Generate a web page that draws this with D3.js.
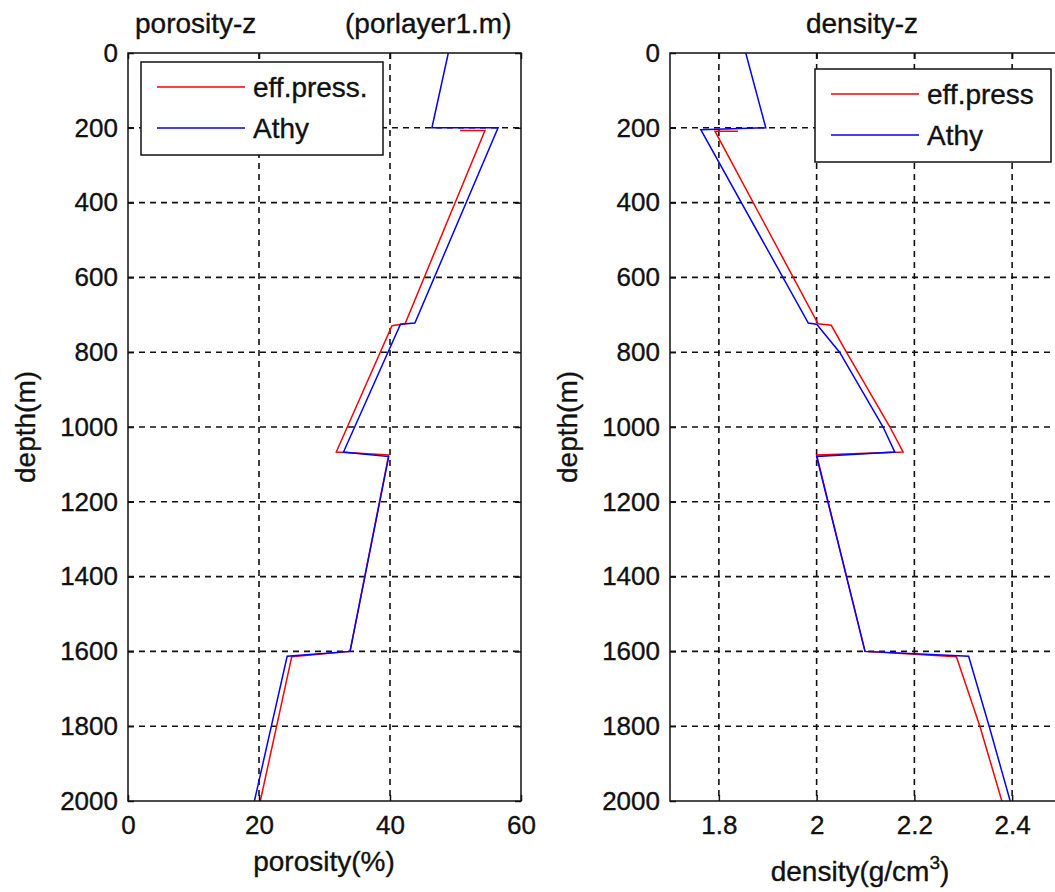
<!DOCTYPE html>
<html>
<head>
<meta charset="utf-8">
<script src="https://cdn.jsdelivr.net/npm/d3@7"></script>
<style>
  body { margin: 0; background: #fff; }
  svg { display: block; }
  text { font-family: Arial, "Liberation Sans", sans-serif; fill: #111; stroke: #111; stroke-width: 0.35px; }
</style>
</head>
<body>
<svg width="1055" height="892"></svg>
<script>
// porosity / density vs depth, two panels
// --- data ---
const porTicks = [0, 20, 40, 60];
const denTicks = [1.8, 2, 2.2, 2.4];
const depthTicks = [0, 200, 400, 600, 800, 1000, 1200, 1400, 1600, 1800, 2000];

// porosity(%) - Athy
const porAthyDepth = [0, 200, 200, 722, 725, 1067, 1079, 1600, 1613, 2000];
const porAthy = [48.9, 46.4, 56.5, 43.8, 41.6, 32.9, 39.8, 33.9, 24.3, 19.3];
// porosity(%) - eff.press.
const porEffDepth = [207, 207, 724, 729, 1067, 1075, 1600, 1614, 2000];
const porEff = [50.7, 54.5, 42.3, 40.3, 31.8, 39.8, 33.9, 25.0, 20.2];

// density(g/cm3) - Athy
const denAthyDepth = [0, 200, 205, 722, 725, 800, 1000, 1067, 1079, 1600, 1613, 1800, 2000];
const denAthy = [1.855, 1.896, 1.763, 1.983, 2.0, 2.047, 2.136, 2.16, 2.0, 2.099, 2.311, 2.353, 2.396];
// density(g/cm3) - eff.press
const denEffDepth = [209, 209, 724, 728, 800, 1000, 1067, 1075, 1600, 1614, 1800, 2000];
const denEff = [1.839, 1.792, 2.003, 2.03, 2.061, 2.15, 2.177, 2.0, 2.099, 2.286, 2.334, 2.379];

const svg = d3.select("svg");
const plotTop = 53, plotBottom = 801;
const fs = 28;     // titles, labels, legend
const tickFs = 26; // tick labels

const yScale = d3.scaleLinear().domain([0, 2000]).range([plotTop, plotBottom]);

function panel(cfg) {
  const x = d3.scaleLinear().domain(cfg.domain).range(cfg.range);
  const g = svg.append("g");
  const x0 = cfg.range[0], x1 = cfg.range[1];
  const w = x1 - x0, h = plotBottom - plotTop;

  const clipId = "clip-" + cfg.id;
  svg.append("clipPath").attr("id", clipId)
    .append("rect").attr("x", x0).attr("y", plotTop).attr("width", w).attr("height", h);

  // dashed grid
  const grid = g.append("g").attr("stroke", "#111").attr("stroke-width", 1.6)
    .attr("stroke-dasharray", "6,5");
  grid.selectAll(".vg")
    .data(cfg.ticks.filter((t) => x(t) > x0 + 2 && x(t) < x1 - 2))
    .enter().append("line")
    .attr("x1", (d) => x(d)).attr("x2", (d) => x(d))
    .attr("y1", plotTop).attr("y2", plotBottom);
  grid.selectAll(".hg")
    .data(depthTicks.filter((t) => t > 0 && t < 2000))
    .enter().append("line")
    .attr("x1", x0).attr("x2", x1)
    .attr("y1", (d) => yScale(d)).attr("y2", (d) => yScale(d));

  // curves
  const line = d3.line().x((d) => x(d[0])).y((d) => yScale(d[1]));
  const curves = g.append("g").attr("clip-path", `url(#${clipId})`);
  curves.append("path")
    .datum(d3.zip(cfg.eff, cfg.effDepth))
    .attr("d", line).attr("fill", "none").attr("stroke", "#ff0000").attr("stroke-width", 1.5);
  curves.append("path")
    .datum(d3.zip(cfg.athy, cfg.athyDepth))
    .attr("d", line).attr("fill", "none").attr("stroke", "#0000ff").attr("stroke-width", 1.5);

  // axes (inward ticks)
  const ax = g.append("g").attr("transform", `translate(0,${plotBottom})`)
    .call(d3.axisBottom(x).tickValues(cfg.ticks).tickSize(-6).tickPadding(15)
      .tickFormat(d3.format("")));
  const axT = g.append("g").attr("transform", `translate(0,${plotTop})`)
    .call(d3.axisTop(x).tickValues(cfg.ticks).tickSize(-6).tickFormat(""));
  const ay = g.append("g").attr("transform", `translate(${x0},0)`)
    .call(d3.axisLeft(yScale).tickValues(depthTicks).tickSize(-6).tickPadding(10)
      .tickFormat(d3.format("d")));
  const ayR = g.append("g").attr("transform", `translate(${x1},0)`)
    .call(d3.axisRight(yScale).tickValues(depthTicks).tickSize(-6).tickFormat(""));
  [ax, axT, ay, ayR].forEach((a) => {
    a.select(".domain").remove();
    a.selectAll("line").attr("stroke", "#111").attr("stroke-width", 1.5);
    a.selectAll("text").attr("font-size", tickFs).attr("fill", "#111")
      .attr("font-family", "Arial, 'Liberation Sans', sans-serif");
  });

  g.append("rect").attr("x", x0).attr("y", plotTop).attr("width", w).attr("height", h)
    .attr("fill", "none").attr("stroke", "#111").attr("stroke-width", 1.5);

  // y label
  g.append("text").attr("transform", `translate(${x0 - 93},${(plotTop + plotBottom) / 2}) rotate(-90)`)
    .attr("text-anchor", "middle").attr("font-size", fs).text("depth(m)");

  // legend
  const lg = g.append("g");
  const lb = cfg.legend;
  lg.append("rect").attr("x", lb.x).attr("y", lb.y).attr("width", lb.w).attr("height", lb.h)
    .attr("fill", "#fff").attr("stroke", "#111").attr("stroke-width", 1.5);
  const items = [[cfg.effName, "#ff0000"], ["Athy", "#0000ff"]];
  items.forEach((it, i) => {
    const ly = lb.y + 25 + i * 41;
    lg.append("line").attr("x1", lb.x + 16).attr("x2", lb.x + 104)
      .attr("y1", ly).attr("y2", ly).attr("stroke", it[1]).attr("stroke-width", 1.5);
    lg.append("text").attr("x", lb.x + 112).attr("y", ly).attr("dy", "0.35em")
      .attr("font-size", fs).text(it[0]);
  });
  return x;
}

panel({
  id: "por", domain: [0, 60], range: [128, 521], ticks: porTicks,
  athy: porAthy, athyDepth: porAthyDepth, eff: porEff, effDepth: porEffDepth,
  effName: "eff.press.",
  legend: { x: 141, y: 62, w: 242, h: 93 }
});
panel({
  id: "den", domain: [1.7, 2.5], range: [670, 1061], ticks: denTicks,
  athy: denAthy, athyDepth: denAthyDepth, eff: denEff, effDepth: denEffDepth,
  effName: "eff.press",
  legend: { x: 815, y: 69, w: 236, h: 93 }
});

// titles and x labels
svg.append("text").attr("x", 135).attr("y", 33).attr("font-size", fs).text("porosity-z");
svg.append("text").attr("x", 345).attr("y", 33).attr("font-size", fs).text("(porlayer1.m)");
svg.append("text").attr("x", 862).attr("y", 33).attr("text-anchor", "middle")
  .attr("font-size", fs).text("density-z");
svg.append("text").attr("x", 324).attr("y", 871).attr("text-anchor", "middle")
  .attr("font-size", fs).text("porosity(%)");
const dl = svg.append("text").attr("x", 860).attr("y", 881).attr("text-anchor", "middle")
  .attr("font-size", fs);
dl.append("tspan").text("density(g/cm");
dl.append("tspan").attr("dy", -12).attr("font-size", 19).text("3");
dl.append("tspan").attr("dy", 12).text(")");
</script>
</body>
</html>
